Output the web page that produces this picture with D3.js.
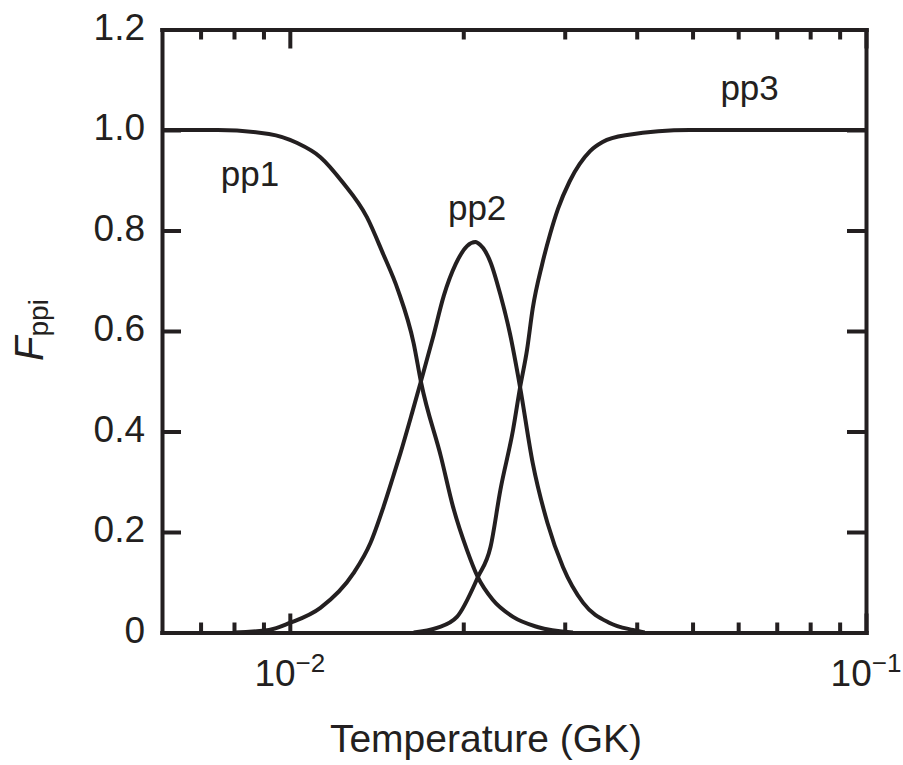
<!DOCTYPE html>
<html>
<head>
<meta charset="utf-8">
<script src="https://cdn.jsdelivr.net/npm/d3@7"></script>
<style>
  body { margin: 0; background: #fff; }
  text { font-family: "Liberation Sans", Arial, sans-serif; fill: #231f20; }
</style>
</head>
<body>
<div id="chart"></div>
<script>
// values: temperature (GK) and fraction F_ppi
const pp1T = [0.006, 0.0075, 0.0092, 0.0103, 0.0113, 0.01235, 0.0136, 0.0145, 0.0154, 0.0164, 0.0169, 0.0183, 0.0192, 0.0203, 0.0212, 0.0225, 0.0244, 0.0269, 0.031]
const pp1F = [1.0, 1.0, 0.992, 0.974, 0.946, 0.896, 0.827, 0.755, 0.682, 0.576, 0.497, 0.349, 0.250, 0.164, 0.110, 0.065, 0.031, 0.011, 0]

const pp2T = [0.0080, 0.0092, 0.0100, 0.0113, 0.0129, 0.0138, 0.01454, 0.0151, 0.01556, 0.0163, 0.01686, 0.0177, 0.0185, 0.0194, 0.0203, 0.0210, 0.0212, 0.0223, 0.0232, 0.0241, 0.0251, 0.0264, 0.0280, 0.0298, 0.0323, 0.0359, 0.0394, 0.0413]
const pp2F = [0, 0.005, 0.019, 0.049, 0.118, 0.178, 0.250, 0.309, 0.357, 0.437, 0.497, 0.585, 0.670, 0.733, 0.769, 0.777, 0.775, 0.737, 0.672, 0.595, 0.488, 0.337, 0.218, 0.130, 0.059, 0.019, 0.005, 0]

const pp3T = [0.0164, 0.0180, 0.0195, 0.0212, 0.0223, 0.0232, 0.0244, 0.0251, 0.0258, 0.0264, 0.0274, 0.0283, 0.0292, 0.0306, 0.0332, 0.0349, 0.0385, 0.0494, 0.1]
const pp3F = [0, 0.009, 0.031, 0.110, 0.170, 0.284, 0.403, 0.488, 0.562, 0.645, 0.732, 0.793, 0.843, 0.898, 0.958, 0.976, 0.990, 1.0, 1.0]

const seriesNames = ["pp1", "pp2", "pp3"]
const yTicks = [0, 0.2, 0.4, 0.6, 0.8, 1.0, 1.2]
const yTickLabels = ["0", "0.2", "0.4", "0.6", "0.8", "1.0", "1.2"]
const xMajor = [0.01, 0.1]
const xMajorExp = ["\u22122", "\u22121"]
const xMinor = [0.007, 0.008, 0.009, 0.02, 0.03, 0.04, 0.05, 0.06, 0.07, 0.08, 0.09]

const ink = "#231f20"
const width = 903, height = 765
const margin = { top: 29.5, right: 37, bottom: 132.5, left: 162 }
const w = width - margin.left - margin.right
const h = height - margin.top - margin.bottom

const x = d3.scaleLog().domain([0.006, 0.1]).range([0, w])
const y = d3.scaleLinear().domain([0, 1.2]).range([h, 0])

const svg = d3.select("#chart").append("svg")
    .attr("width", width)
    .attr("height", height)

const chart = svg.append("g")
    .attr("transform", `translate(${margin.left},${margin.top})`)

function styleAxis(g) {
    g.attr("font-size", null).attr("font-family", null)
    g.selectAll("path.domain").attr("stroke", ink).attr("stroke-width", 4).attr("stroke-linecap", "square")
    g.selectAll(".tick line").attr("stroke", ink).attr("stroke-width", 4)
}

// bottom and top: major + minor ticks pointing inward
chart.append("g").attr("transform", `translate(0,${h})`)
    .call(d3.axisBottom(x).tickValues(xMinor).tickSize(-10).tickSizeOuter(0).tickFormat(""))
    .call(styleAxis)
chart.append("g").attr("transform", `translate(0,${h})`)
    .call(d3.axisBottom(x).tickValues(xMajor).tickSize(-19).tickSizeOuter(0).tickFormat(""))
    .call(styleAxis)
chart.append("g")
    .call(d3.axisTop(x).tickValues(xMinor).tickSize(-10).tickSizeOuter(0).tickFormat(""))
    .call(styleAxis)
chart.append("g")
    .call(d3.axisTop(x).tickValues(xMajor).tickSize(-19).tickSizeOuter(0).tickFormat(""))
    .call(styleAxis)

// left and right
const yLeft = chart.append("g")
    .call(d3.axisLeft(y).tickValues(yTicks).tickSize(-19).tickSizeOuter(0).tickPadding(17)
        .tickFormat((d, i) => yTickLabels[i]))
    .call(styleAxis)
yLeft.selectAll(".tick text")
    .attr("font-size", 37)
    .attr("fill", ink)
    .attr("dy", "0.26em")
chart.append("g").attr("transform", `translate(${w},0)`)
    .call(d3.axisRight(y).tickValues(yTicks).tickSize(-19).tickSizeOuter(0).tickFormat(""))
    .call(styleAxis)

// x tick labels 10^-2, 10^-1
const xl = chart.selectAll(".xlab")
    .data(xMajor)
    .join("text")
    .attr("class", "xlab")
    .attr("x", d => x(d))
    .attr("y", h + 53)
    .attr("text-anchor", "middle")
    .attr("font-size", 37)
xl.append("tspan").text("10")
xl.append("tspan")
    .attr("font-size", 26)
    .attr("dy", -14)
    .text((d, i) => xMajorExp[i])

// curves
const line = d3.line()
    .x(d => x(d[0]))
    .y(d => y(d[1]))
    .curve(d3.curveMonotoneX)

const series = [d3.zip(pp1T, pp1F), d3.zip(pp2T, pp2F), d3.zip(pp3T, pp3F)]
chart.selectAll(".curve")
    .data(series)
    .join("path")
    .attr("class", "curve")
    .attr("fill", "none")
    .attr("stroke", ink)
    .attr("stroke-width", 4)
    .attr("stroke-linejoin", "round")
    .attr("d", line)

// curve labels
const labelAt = [[0.00853, 0.889], [0.02114, 0.821], [0.0628, 1.06]]
chart.selectAll(".clab")
    .data(seriesNames)
    .join("text")
    .attr("class", "clab")
    .attr("x", (d, i) => x(labelAt[i][0]))
    .attr("y", (d, i) => y(labelAt[i][1]))
    .attr("text-anchor", "middle")
    .attr("font-size", 35)
    .text(d => d)

// axis titles
svg.append("text")
    .attr("x", margin.left + x(0.0219))
    .attr("y", 752)
    .attr("text-anchor", "middle")
    .attr("font-size", 39)
    .text("Temperature (GK)")

const yt = svg.append("text")
    .attr("transform", "translate(43,330) rotate(-90)")
    .attr("text-anchor", "middle")
    .attr("font-size", 40)
yt.append("tspan").attr("font-style", "italic").text("F")
yt.append("tspan").attr("font-size", 28).attr("dy", 5).text("ppi")
</script>
</body>
</html>
